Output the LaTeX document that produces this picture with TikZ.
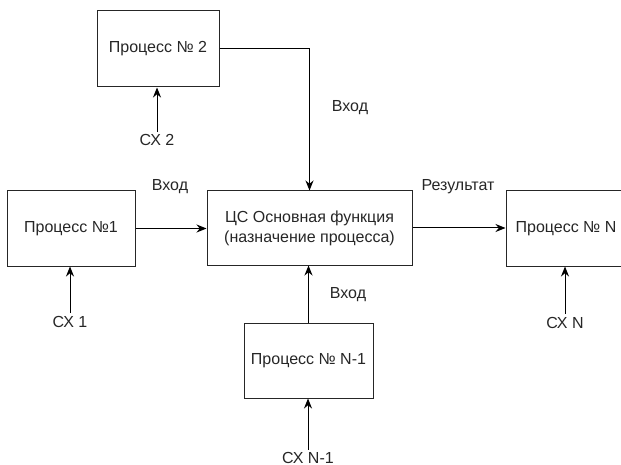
\documentclass[tikz,border=0pt]{standalone}
\usepackage{fontspec}
\setmainfont{Liberation Sans}
\usetikzlibrary{arrows.meta}
\begin{document}
\begin{tikzpicture}[x=1pt,y=-1pt,
  font=\fontsize{16}{20}\selectfont,
  proc/.style={draw=black!85, line width=1pt, rectangle, inner sep=0pt, align=center, text=black!85},
  flow/.style={draw=black, line width=1pt, -{Stealth[length=10pt,width=8pt]}},
  lbl/.style={inner sep=0pt, text=black!85}]
\useasboundingbox (0,0) rectangle (621,465);
\clip (0,0) rectangle (621,465);

% process boxes
\node[proc, minimum width=122pt, minimum height=76pt] (p2) at (158,49) {Процесс № 2};
\node[proc, minimum width=128pt, minimum height=75pt] (p1) at (71,228.5) {Процесс №1};
\node[proc, minimum width=205pt, minimum height=74pt] (main) at (309.5,228)
  {ЦС Основная функция\\(назначение процесса)};
\node[proc, minimum width=120pt, minimum height=75pt] (pn) at (566,228.5) {Процесс № N};
\node[proc, minimum width=129pt, minimum height=75pt] (pn1) at (308.5,360.5) {Процесс № N-1};

% control labels
\node[lbl] (cx2) at (157,140) {СХ 2};
\node[lbl] (cx1) at (70,322) {СХ 1};
\node[lbl] (cxn) at (565,323) {СХ N};
\node[lbl] (cxn1) at (308,457.5) {СХ N-1};

% flow labels
\node[lbl] (in2) at (350,108) {Вход};
\node[lbl] (in1) at (170,187) {Вход};
\node[lbl] (inn1) at (348,295) {Вход};
\node[lbl] (res) at (458,187) {Результат};

% control arrows
\draw[flow] (cx2.north) ++(0,-2) coordinate (c2s) -- (c2s |- p2.south);
\draw[flow] (cx1.north) ++(0,-3) coordinate (c1s) -- (c1s |- p1.south);
\draw[flow] (cxn.north) ++(0,-3) coordinate (cns) -- (cns |- pn.south);
\draw[flow] (cxn1.north) ++(0,-2) coordinate (cn1s) -- (cn1s |- pn1.south);

% main flows
\draw[flow] (p2.east) -- (p2.east -| main.north) -- (main.north);
\draw[flow] (p1.east) -- (p1.east -| main.west);
\draw[flow] (main.east) -- (main.east -| pn.west);
\draw[flow] (pn1.north) -- (pn1.north |- main.south);
\end{tikzpicture}
\end{document}
